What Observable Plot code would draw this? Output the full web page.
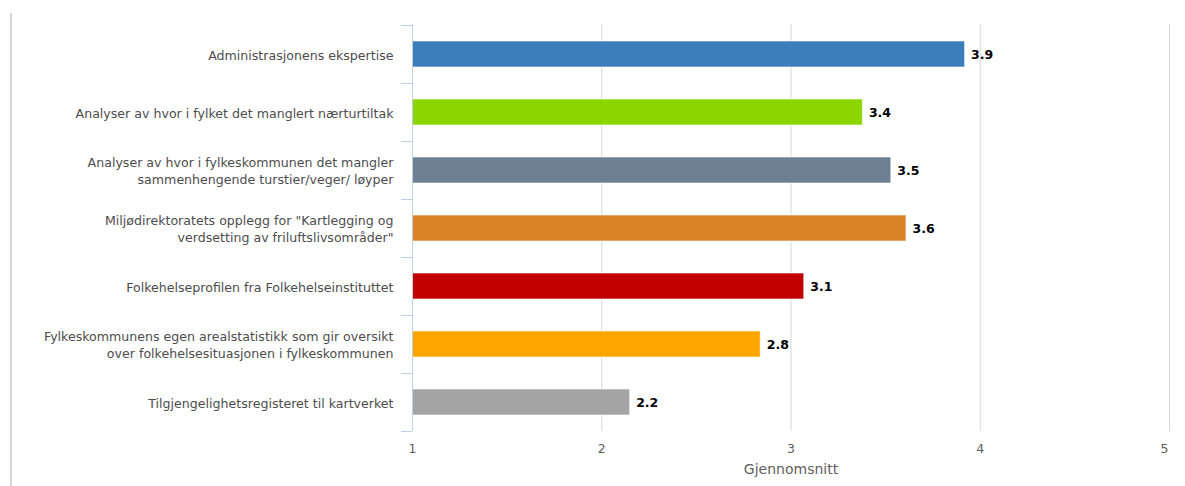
<!DOCTYPE html>
<html>
<head>
<meta charset="utf-8">
<script src="https://cdn.jsdelivr.net/npm/d3@7"></script>
<script src="https://cdn.jsdelivr.net/npm/@observablehq/plot@0.6"></script>
<style>
  html, body { margin: 0; padding: 0; background: #fff; }
  #wrap { position: relative; width: 1185px; height: 486px; overflow: hidden; }
  #border { position: absolute; left: 10px; top: 13px; width: 2px; height: 480px; background: #d6d6d6; }
  #chart { position: absolute; left: 0; top: 0; }
</style>
</head>
<body>
<div id="wrap"><div id="border"></div><div id="chart"></div></div>
<script>
const categories = [
  "Administrasjonens ekspertise",
  "Analyser av hvor i fylket det manglert nærturtiltak",
  "Analyser av hvor i fylkeskommunen det mangler\nsammenhengende turstier/veger/ løyper",
  "Miljødirektoratets opplegg for \"Kartlegging og\nverdsetting av friluftslivsområder\"",
  "Folkehelseprofilen fra Folkehelseinstituttet",
  "Fylkeskommunens egen arealstatistikk som gir oversikt\nover folkehelsesituasjonen i fylkeskommunen",
  "Tilgjengelighetsregisteret til kartverket"
];
const values = [3.92, 3.38, 3.53, 3.61, 3.07, 2.84, 2.15];
const valueLabels = ["3.9", "3.4", "3.5", "3.6", "3.1", "2.8", "2.2"];
const colors = ["#3c7ebb", "#8bd600", "#6c7f93", "#d88326", "#c30000", "#ffa500", "#a4a4a4"];
const xTicks = [1, 2, 3, 4, 5];
const axisTitle = "Gjennomsnitt";

const data = categories.map((c, i) => ({cat: c, value: values[i], label: valueLabels[i], color: colors[i]}));

const font = "'DejaVu Sans', Verdana, sans-serif";
const last = xTicks[xTicks.length - 1];

const plot = Plot.plot({
  width: 1185,
  height: 486,
  marginLeft: 412,
  marginRight: 16,
  marginTop: 24,
  marginBottom: 55,
  style: {fontFamily: font, fontSize: "12px", background: "transparent", overflow: "visible"},
  x: {domain: [1, 5], axis: null},
  y: {domain: categories, padding: 0, axis: null},
  marks: [
    Plot.ruleX(xTicks.slice(1), {stroke: "#d8d8d8", strokeWidth: 1}),
    Plot.barX(data, {x1: 1, x2: "value", y: "cat", fill: "color", stroke: "#ffffff", strokeOpacity: 0.6, strokeWidth: 1, insetTop: 16, insetBottom: 16}),
    Plot.ruleX([1], {stroke: "#c0d0e0", strokeWidth: 1}),
    Plot.text(data, {y: "cat", frameAnchor: "left", dx: -19, textAnchor: "end", text: "cat", fill: "#4d4d4d", lineHeight: 1.33, fontSize: 12.6}),
    Plot.text(data, {x: "value", y: "cat", text: "label", dx: 6, textAnchor: "start", fontWeight: "bold", fill: "#000", fontSize: 12.5}),
    Plot.text(xTicks.filter(d => d !== last), {x: d => d, frameAnchor: "bottom", dy: 21, text: d => String(d), fill: "#606060", fontSize: 12.5}),
    Plot.text([last], {x: d => d, frameAnchor: "bottom", dy: 21, dx: -5, text: d => String(d), fill: "#606060", fontSize: 12.5}),
    Plot.text([axisTitle], {x: 3, frameAnchor: "bottom", dy: 42, text: d => d, fill: "#606060", fontSize: 14})
  ]
});

document.getElementById("chart").appendChild(plot);

// category boundary ticks on the y axis, from the plot's band scale
const ys = plot.scale("y");
const xs = plot.scale("x");
const bw = ys.bandwidth;
const bounds = categories.map(c => ys.apply(c)).concat([ys.apply(categories[categories.length - 1]) + bw]);
d3.select(plot).append("g")
  .attr("stroke", "#c0d0e0")
  .selectAll("line")
  .data(bounds)
  .join("line")
  .attr("x1", xs.apply(1) - 11)
  .attr("x2", xs.apply(1))
  .attr("y1", d => Math.round(d) + 0.5)
  .attr("y2", d => Math.round(d) + 0.5);
</script>
</body>
</html>
